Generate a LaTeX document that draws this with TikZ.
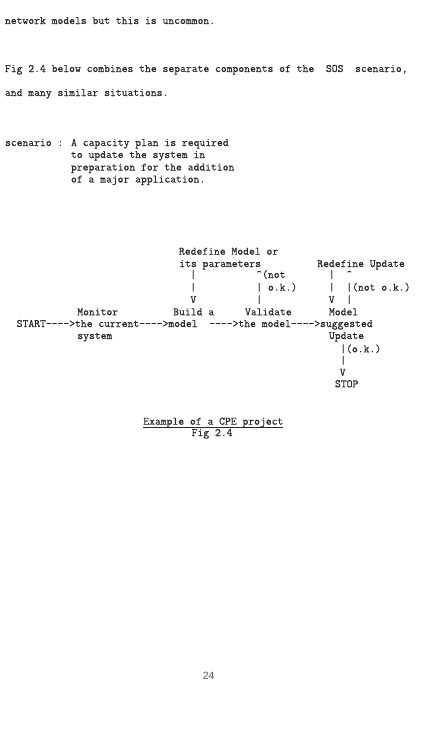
\documentclass[tikz,border=0pt]{standalone}
\usepackage{fontspec}
\newfontfamily\tw{Latin Modern Mono}[FakeBold=0.35]
\newfontfamily\pgnum{Liberation Sans}
\definecolor{ink}{HTML}{2A2A2A}
\begin{document}
\begin{tikzpicture}[x=1pt,y=-1pt,
  tt/.style={font=\tw\fontsize{11.33}{12}\selectfont, text=ink, inner sep=0pt, outer sep=0pt, anchor=base west},
  ttc/.style={tt, anchor=base}]
\useasboundingbox[fill=white] (0,0) rectangle (421,734);
% body text
\node[tt] (t1) at (5,24) {network models but this is uncommon.};
\node[tt] (t2) at (5,72) {Fig 2.4 below combines the separate components of the~~SOS~~scenario,};
\node[tt] (t3) at (5,96) {and many similar situations.};
\node[tt] (s1) at (5,146) {scenario : A capacity plan is required};
\node[tt] (s2) at (71,158) {to update the system in};
\node[tt] (s3) at (71,170.5) {preparation for the addition};
\node[tt] (s4) at (71,182.5) {of a major application.};
% diagram
\node[tt] (rm1) at (179,254.7) {Redefine Model or};
\node[tt] (rm2) at (179.3,267) {its parameters};
\node[tt] (ru) at (317.3,267) {Redefine Update};
% row 1
\node[ttc] (a1) at (193.3,278) {|};
\node[tt] (a2) at (256.3,278) {\textasciicircum(not};
\node[ttc] (a3) at (331.7,278) {|};
\node[ttc] (a4) at (349.3,278) {\textasciicircum};
% row 2
\node[ttc] (b1) at (193.3,290.7) {|};
\node[tt] (b2) at (256.3,290.7) {| o.k.)};
\node[ttc] (b3) at (331.7,290.7) {|};
\node[tt] (b4) at (346.3,290.7) {|(not o.k.)};
% row 3
\node[ttc] (c1) at (193.3,303) {V};
\node[ttc] (c2) at (259.3,303) {|};
\node[ttc] (c3) at (331.7,303) {V};
\node[ttc] (c4) at (349.3,303) {|};
% row 4
\node[tt] (mon) at (77.3,315.3) {Monitor};
\node[tt] (bld) at (173.3,315.3) {Build a};
\node[tt] (val) at (245,315.3) {Validate};
\node[tt] (mdl) at (329,315.3) {Model};
% main line
\node[tt] (main) at (16.7,327) {START---->the current---->model~~---->the model---->suggested};
% row 6
\node[tt] (sys) at (77.3,339) {system};
\node[tt] (upd) at (329,339) {Update};
% down to stop
\node[tt] (ok) at (340.3,352.3) {|(o.k.)};
\node[ttc] (d1) at (343.3,363.7) {|};
\node[ttc] (d2) at (342.7,375.7) {V};
\node[tt] (stop) at (335,387.3) {STOP};
% caption
\node[tt] (cap) at (143.3,424.7) {Example of a CPE project};
\draw[ink, line width=0.6pt] ([yshift=-2.3pt]cap.base west) -- ([yshift=-2.3pt]cap.base east);
\node[tt] (fig) at (191.7,436) {Fig 2.4};
% page number
\node[font=\pgnum\fontsize{10.5}{12}\selectfont, text=ink!80, anchor=base west, inner sep=0pt] (pg) at (202.7,679.5) {24};
\end{tikzpicture}
\end{document}
